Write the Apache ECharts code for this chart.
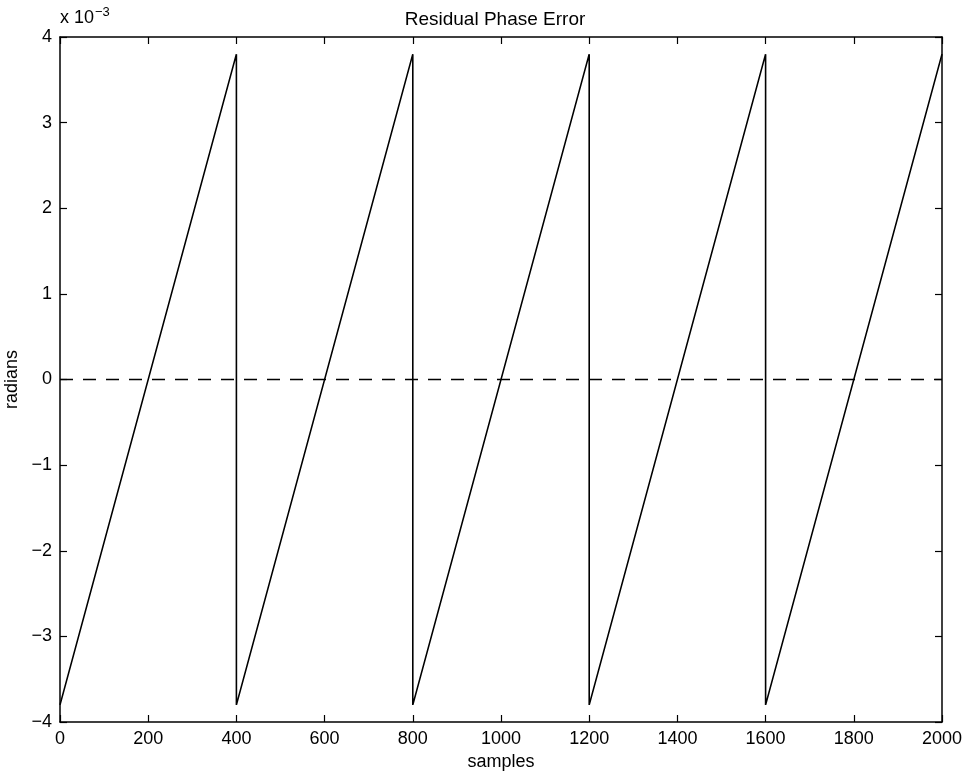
<!DOCTYPE html>
<html>
<head>
<meta charset="utf-8">
<script src="https://cdn.jsdelivr.net/npm/echarts@6/dist/echarts.min.js"></script>
<style>html,body{margin:0;padding:0;background:#fff}#c{width:966px;height:774px}</style>
</head>
<body>
<div id="c"></div>
<script>
// values in units of 1e-3 radians
const samples = [0, 400, 400, 800, 800, 1200, 1200, 1600, 1600, 2000];
const phaseError = [-3.8, 3.8, -3.8, 3.8, -3.8, 3.8, -3.8, 3.8, -3.8, 3.8];
const xTicks = [0, 200, 400, 600, 800, 1000, 1200, 1400, 1600, 1800, 2000];
const yTicks = [-4, -3, -2, -1, 0, 1, 2, 3, 4];
const zeroRef = 0;

const FONT = 'Liberation Sans, Arial, sans-serif';
const chart = echarts.init(document.getElementById('c'), null, {renderer: 'canvas'});
const tickStyle = {show: true, inside: true, length: 7, lineStyle: {color: '#000', width: 1.2}};
const lineStyleAxis = {show: true, onZero: false, lineStyle: {color: '#000', width: 1.5}};
const dash = {color: '#000', width: 1.3, type: [13, 10]};

chart.setOption({
  animation: false,
  backgroundColor: '#fff',
  title: {
    text: 'Residual Phase Error', left: 490, top: 5, textAlign: 'center',
    textStyle: {fontFamily: FONT, fontSize: 19, fontWeight: 'normal', color: '#000'}
  },
  graphic: [{
    type: 'text', left: 60, top: 6,
    style: {
      text: '{a|x 10}{b|−3}',
      rich: {
        a: {fontFamily: FONT, fontSize: 18, fill: '#000'},
        b: {fontFamily: FONT, fontSize: 13, fill: '#000', verticalAlign: 'top', padding: [0, 0, 12, 1]}
      }
    }
  }],
  grid: {left: 60, right: 24, top: 37, bottom: 52, show: false, containLabel: false, outerBoundsMode: 'none'},
  xAxis: [{
    type: 'value', min: xTicks[0], max: xTicks[xTicks.length - 1], interval: 200,
    name: 'samples', nameLocation: 'middle', nameGap: 24,
    nameTextStyle: {fontFamily: FONT, fontSize: 18, color: '#000'},
    axisLine: lineStyleAxis, axisTick: tickStyle, splitLine: {show: false},
    axisLabel: {fontFamily: FONT, fontSize: 18, color: '#000', margin: 8, formatter: v => String(v)}
  }, {
    type: 'value', position: 'top', min: xTicks[0], max: xTicks[xTicks.length - 1], interval: 200,
    axisLine: lineStyleAxis, axisTick: tickStyle, splitLine: {show: false},
    axisLabel: {show: false}
  }],
  yAxis: [{
    type: 'value', min: yTicks[0], max: yTicks[yTicks.length - 1], interval: 1,
    name: 'radians', nameLocation: 'middle', nameGap: 33, nameRotate: 90,
    nameTextStyle: {fontFamily: FONT, fontSize: 18, color: '#000'},
    axisLine: lineStyleAxis, axisTick: tickStyle, splitLine: {show: false},
    axisLabel: {fontFamily: FONT, fontSize: 18, color: '#000', margin: 8,
      formatter: v => (v < 0 ? '−' + Math.abs(v) : String(v))}
  }, {
    type: 'value', position: 'right', min: yTicks[0], max: yTicks[yTicks.length - 1], interval: 1,
    axisLine: lineStyleAxis, axisTick: tickStyle, splitLine: {show: false},
    axisLabel: {show: false}
  }],
  series: [{
    type: 'line',
    data: samples.map((x, i) => [x, phaseError[i]]),
    showSymbol: false, symbol: 'none',
    lineStyle: {color: '#000', width: 1.6},
    z: 3,
    markLine: {
      silent: true, symbol: 'none', label: {show: false},
      lineStyle: dash,
      data: [{yAxis: zeroRef}]
    }
  }]
});
</script>
</body>
</html>
